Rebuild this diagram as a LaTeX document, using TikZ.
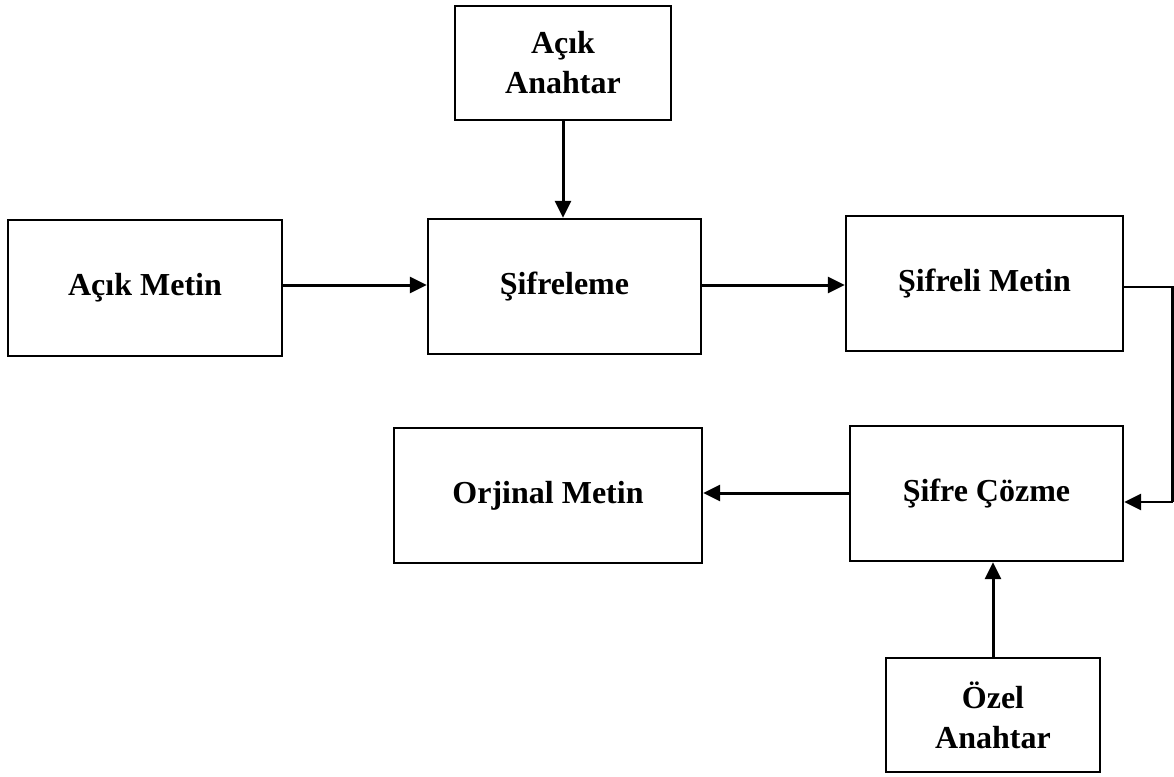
\documentclass[tikz,border=0pt]{standalone}
\usepackage{fontspec}
\setmainfont{Liberation Serif}
\usetikzlibrary{arrows.meta}
\tikzset{
  box/.style={draw=black, line width=2.4pt, rectangle, inner sep=0pt, align=center,
    font=\fontsize{32}{40}\selectfont\bfseries},
  conn/.style={line width=3pt, -{Triangle[length=17pt,width=16pt]}},
  plain/.style={line width=2.4pt}
}
\begin{document}
\begin{tikzpicture}[x=1pt,y=-1pt]
\useasboundingbox (0,0) rectangle (1174,776);
\node[box, minimum width=216pt, minimum height=114pt] (aa) at (563,63) {Açık\\Anahtar};
\node[box, minimum width=274pt, minimum height=136pt] (am) at (145,288) {Açık Metin};
\node[box, minimum width=273pt, minimum height=135pt] (sf) at (564.5,286.5) {Şifreleme};
\node[box, minimum width=277pt, minimum height=135pt] (sm) at (984.5,283.5) {Şifreli Metin};
\node[box, minimum width=308pt, minimum height=135pt] (om) at (548,495.5) {Orjinal Metin};
\node[box, minimum width=273pt, minimum height=135pt] (sc) at (986.5,493.5) {Şifre Çözme};
\node[box, minimum width=214pt, minimum height=114pt] (oa) at (993,715) {Özel\\Anahtar};
\coordinate (c1) at (1172.5,287);
\coordinate (c2) at (1172.5,502);
\draw[conn] (aa.south) -- (aa.south |- sf.north);
\draw[conn] ([yshift=3pt]am.east) -- ([yshift=3pt]am.east -| sf.west);
\draw[conn] ([yshift=1.5pt]sf.east) -- ([yshift=1.5pt]sf.east -| sm.west);
\draw[plain] (c1 -| sm.east) -- (c1) -- (c2);
\draw[conn, line width=2.6pt] (c2) -- (c2 -| sc.east);
\draw[conn] ([yshift=0.5pt]sc.west) -- ([yshift=0.5pt]sc.west -| om.east);
\draw[conn] (oa.north) -- (oa.north |- sc.south);
\end{tikzpicture}
\end{document}
